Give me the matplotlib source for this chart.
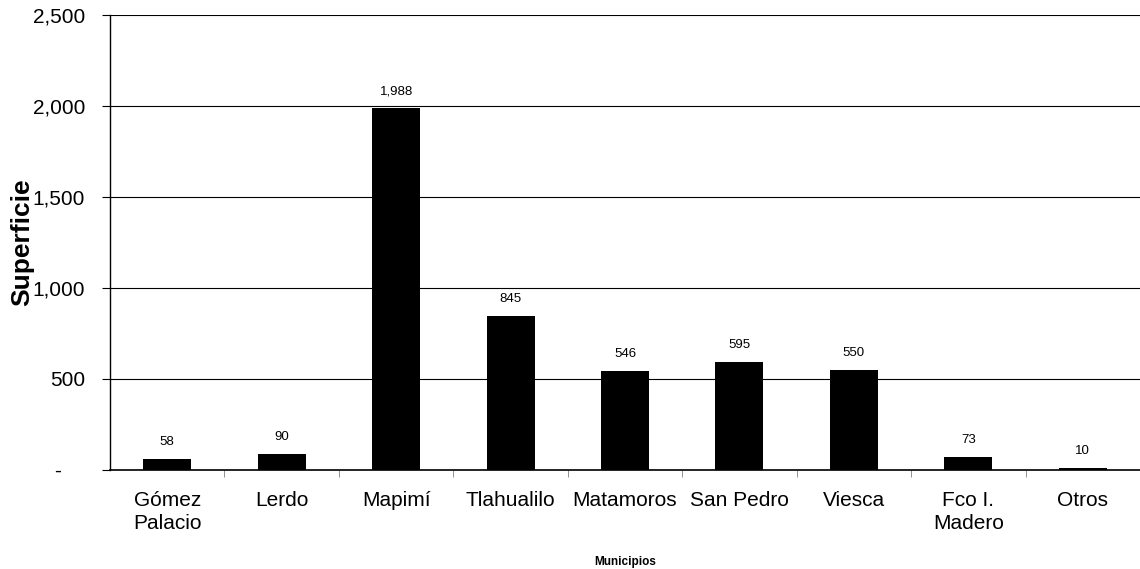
import numpy as np
import matplotlib
matplotlib.use("Agg")
import matplotlib.pyplot as plt
from matplotlib.ticker import FuncFormatter, FixedLocator

municipios = ["Gómez\nPalacio", "Lerdo", "Mapimí", "Tlahualilo", "Matamoros",
              "San Pedro", "Viesca", "Fco I.\nMadero", "Otros"]
superficie = [58, 90, 1988, 845, 546, 595, 550, 73, 10]
yticks = [0, 500, 1000, 1500, 2000, 2500]

plt.rcParams['font.family'] = ['Liberation Sans', 'DejaVu Sans']

fig = plt.figure(figsize=(11.4, 5.69), dpi=100)
ax = fig.add_axes([0.0965, 0.174, 0.9035, 0.7996])

x = np.arange(len(municipios))
ax.bar(x, superficie, width=0.42, color='black', zorder=3)

for xi, v in zip(x, superficie):
    ax.annotate(f"{v:,}", (xi, v), xytext=(0, 8), textcoords='offset points',
                ha='center', va='bottom', fontsize=9.5)

ax.set_xlim(-0.5, len(municipios) - 0.5)
ax.set_ylim(0, 2500)
ax.set_yticks(yticks)
ax.yaxis.set_major_formatter(FuncFormatter(lambda v, p: "-    " if v == 0 else f"{v:,.0f}"))
ax.grid(axis='y', color='black', linewidth=0.8, zorder=0)

ax.set_xticks(x)
ax.set_xticklabels(municipios, fontsize=15, linespacing=1.25)
ax.xaxis.set_minor_locator(FixedLocator(np.arange(0.5, len(municipios) - 0.5, 1)))
ax.tick_params(axis='x', which='major', length=0, pad=15)
ax.tick_params(axis='x', which='minor', length=5, color='gray')
ax.tick_params(axis='y', labelsize=15, length=6, pad=12)

for s in ['top', 'right']:
    ax.spines[s].set_visible(False)
ax.spines['left'].set_linewidth(1)
ax.spines['bottom'].set_linewidth(1.2)

# label overlaps the 1,500 tick label like the original
ax.set_ylabel("Superficie", fontsize=19, fontweight='bold')
ax.yaxis.set_label_coords(-0.074, 0.5)
ax.set_xlabel("Municipios", fontsize=8.5, fontweight='bold')
ax.xaxis.set_label_coords(0.5, -0.19)

fig.savefig("out.png", dpi=100)
